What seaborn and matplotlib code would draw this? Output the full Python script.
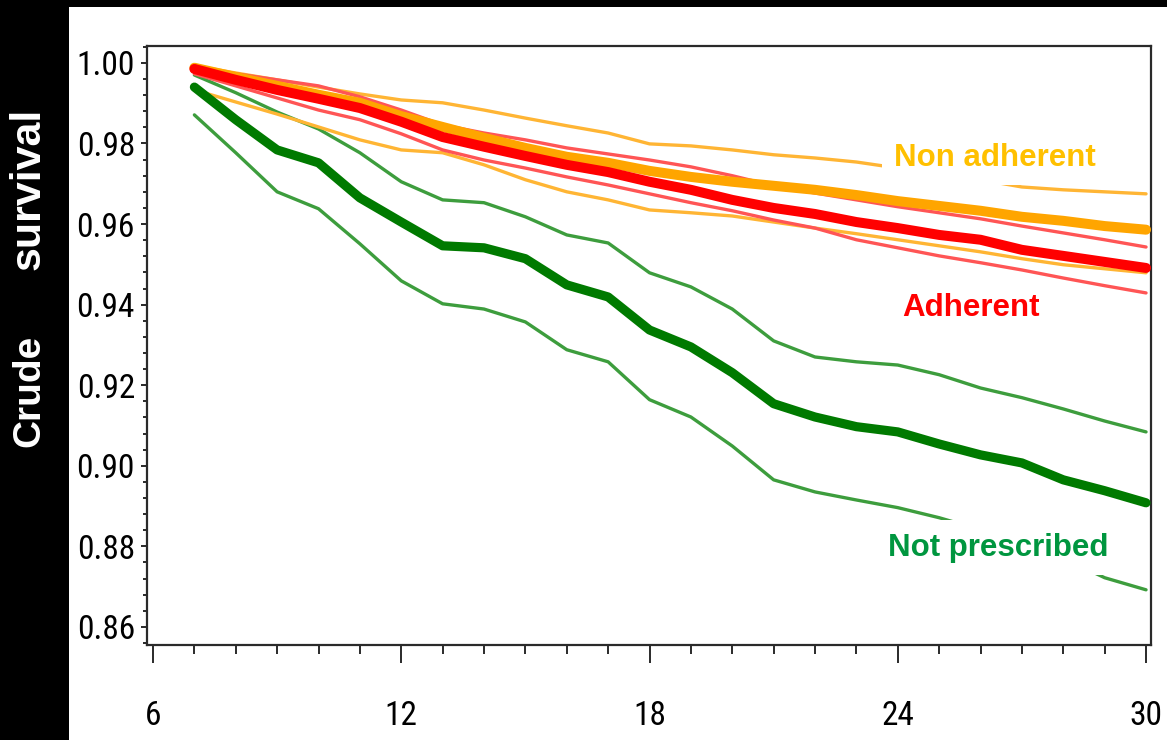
import numpy as np
import matplotlib
matplotlib.use("Agg")
import matplotlib.pyplot as plt
import seaborn as sns
from matplotlib.patches import Rectangle
from matplotlib.ticker import MultipleLocator, FixedLocator, StrMethodFormatter
from matplotlib import font_manager

# ---- data: crude survival by month of follow-up ----
months = list(range(7, 31))

not_prescribed = [0.9940, 0.9859, 0.9784, 0.9752, 0.9665, 0.9605, 0.9546, 0.9541,
                  0.9514, 0.9449, 0.9419, 0.9337, 0.9295, 0.9231, 0.9154, 0.9121,
                  0.9097, 0.9084, 0.9054, 0.9027, 0.9007, 0.8965, 0.8938, 0.8908]
not_prescribed_hi = [0.9970, 0.9926, 0.9878, 0.9836, 0.9777, 0.9705, 0.9660, 0.9653,
                     0.9618, 0.9573, 0.9553, 0.9479, 0.9444, 0.9389, 0.9310, 0.9270,
                     0.9258, 0.9250, 0.9226, 0.9193, 0.9169, 0.9141, 0.9111, 0.9084]
not_prescribed_lo = [0.9871, 0.9777, 0.9680, 0.9638, 0.9551, 0.9459, 0.9402, 0.9389,
                     0.9357, 0.9288, 0.9258, 0.9164, 0.9121, 0.9049, 0.8965, 0.8935,
                     0.8915, 0.8896, 0.8871, 0.8841, 0.8809, 0.8771, 0.8722, 0.8692]

adherent = [0.9985, 0.9958, 0.9933, 0.9911, 0.9888, 0.9854, 0.9816, 0.9792,
            0.9769, 0.9747, 0.9729, 0.9705, 0.9685, 0.9660, 0.9640, 0.9625,
            0.9605, 0.9590, 0.9573, 0.9561, 0.9536, 0.9521, 0.9506, 0.9491]
adherent_hi = [0.9990, 0.9973, 0.9958, 0.9943, 0.9916, 0.9883, 0.9846, 0.9826,
               0.9809, 0.9789, 0.9774, 0.9759, 0.9742, 0.9720, 0.9695, 0.9677,
               0.9660, 0.9643, 0.9628, 0.9613, 0.9595, 0.9578, 0.9561, 0.9543]
adherent_lo = [0.9973, 0.9943, 0.9913, 0.9883, 0.9859, 0.9824, 0.9784, 0.9759,
               0.9739, 0.9717, 0.9697, 0.9675, 0.9653, 0.9633, 0.9610, 0.9590,
               0.9561, 0.9541, 0.9521, 0.9504, 0.9486, 0.9466, 0.9447, 0.9429]

non_adherent = [0.9988, 0.9965, 0.9943, 0.9921, 0.9901, 0.9868, 0.9841, 0.9814,
                0.9789, 0.9767, 0.9752, 0.9732, 0.9717, 0.9705, 0.9695, 0.9685,
                0.9672, 0.9657, 0.9645, 0.9633, 0.9618, 0.9608, 0.9595, 0.9586]
non_adherent_hi = [0.9993, 0.9975, 0.9958, 0.9940, 0.9923, 0.9908, 0.9901, 0.9883,
                   0.9863, 0.9844, 0.9826, 0.9799, 0.9794, 0.9784, 0.9772, 0.9764,
                   0.9754, 0.9739, 0.9727, 0.9710, 0.9692, 0.9685, 0.9680, 0.9675]
non_adherent_lo = [0.9933, 0.9903, 0.9873, 0.9841, 0.9809, 0.9784, 0.9777, 0.9747,
                   0.9710, 0.9680, 0.9660, 0.9635, 0.9628, 0.9620, 0.9605, 0.9590,
                   0.9576, 0.9561, 0.9546, 0.9531, 0.9514, 0.9499, 0.9489, 0.9479]

group_labels = ["Non adherent", "Adherent", "Not prescribed"]
x_ticks = [6, 12, 18, 24, 30]
y_ticks = [0.86, 0.88, 0.90, 0.92, 0.94, 0.96, 0.98, 1.00]
y_label_words = ["Crude", "survival"]

# ---- styling ----
sns.set_style("white")
plt.rcParams["font.family"] = ["Liberation Sans", "DejaVu Sans"]

# prefer a narrow face for the tick numbers when one is available
installed = {f.name for f in font_manager.fontManager.ttflist}
tick_font, tick_size = "Liberation Sans", 21
for cand in ["Liberation Sans Narrow", "Arial Narrow", "Roboto Condensed",
             "Open Sans Condensed", "Noto Sans Condensed"]:
    if cand in installed:
        tick_font, tick_size = cand, 24
        break

W, H = 1167, 740
PT = 0.72  # points per pixel at 100 dpi
fig = plt.figure(figsize=(W / 100, H / 100), dpi=100, facecolor="white")

# dark slide border on the left and top
fig.patches.append(Rectangle((0, 0), 69 / W, 1, transform=fig.transFigure,
                             facecolor="black", edgecolor="none", zorder=0))
fig.patches.append(Rectangle((0, 1 - 7 / H), 1, 7 / H, transform=fig.transFigure,
                             facecolor="black", edgecolor="none", zorder=0))
gax = fig.add_axes([0, 0, 69 / W, 80 / H])
top_c = np.array([0x0a, 0x0d, 0x12]) / 255
bot_c = np.array([0x17, 0x1c, 0x27]) / 255
t = np.linspace(0, 1, 80)[:, None, None]
grad = top_c[None, None, :] * (1 - t) + bot_c[None, None, :] * t
gax.imshow(np.repeat(grad, 4, axis=1), aspect="auto")
gax.axis("off")

ax = fig.add_axes([147 / W, 95 / H, 1004 / W, 599 / H])
ax.set_facecolor("white")

c_orange, c_orange_ci = "#FFA500", "#FFB534"
c_red, c_red_ci = "#FF0000", "#FF5555"
c_green, c_green_ci = "#007A00", "#3D9D3D"

ci_lw = 2.4
for vals, col in [(not_prescribed_hi, c_green_ci), (not_prescribed_lo, c_green_ci)]:
    sns.lineplot(x=months, y=vals, ax=ax, color=col, linewidth=ci_lw, zorder=2)
sns.lineplot(x=months, y=not_prescribed, ax=ax, color=c_green, linewidth=6.6,
             zorder=3, solid_capstyle="round")
for vals, col in [(non_adherent_hi, c_orange_ci), (non_adherent_lo, c_orange_ci),
                  (adherent_hi, c_red_ci), (adherent_lo, c_red_ci)]:
    sns.lineplot(x=months, y=vals, ax=ax, color=col, linewidth=ci_lw, zorder=2)
sns.lineplot(x=months, y=non_adherent, ax=ax, color=c_orange, linewidth=7.2,
             zorder=3, solid_capstyle="round")
sns.lineplot(x=months, y=adherent, ax=ax, color=c_red, linewidth=7.2,
             zorder=4, solid_capstyle="round")

# axis scales
ax.set_xlim(5.855, 30.12)
ax.set_ylim(0.8555, 1.0042)
ax.xaxis.set_major_locator(FixedLocator(x_ticks))
ax.xaxis.set_minor_locator(MultipleLocator(1))
ax.yaxis.set_major_locator(FixedLocator(y_ticks))
ax.yaxis.set_minor_locator(MultipleLocator(0.004))
ax.yaxis.set_major_formatter(StrMethodFormatter("{x:.2f}"))
ax.set_xlabel("")
ax.set_ylabel("")

for sp in ax.spines.values():
    sp.set_visible(True)
    sp.set_color("#2a2a2a")
    sp.set_linewidth(1.6)

tick_c = "#2a2a2a"
ax.tick_params(axis="x", which="major", direction="out", length=18 * PT, width=1.4,
               color=tick_c, pad=37 * PT, labelsize=tick_size, labelcolor="black",
               bottom=True)
ax.tick_params(axis="x", which="minor", direction="out", length=9 * PT, width=1.4,
               color=tick_c, bottom=True)
ax.tick_params(axis="y", which="major", direction="out", length=6 * PT, width=1.4,
               color=tick_c, pad=6 * PT, labelsize=tick_size, labelcolor="black",
               left=True)
ax.tick_params(axis="y", which="minor", direction="out", length=4 * PT, width=1.4,
               color=tick_c, left=True)
for lab in ax.get_xticklabels() + ax.get_yticklabels():
    lab.set_fontfamily(tick_font)

# group labels on white boxes
box = dict(facecolor="white", edgecolor="none", boxstyle="square,pad=0.4")
ax.text(26.35, 0.97642, group_labels[0], color="#FFC000", fontsize=22.5,
        fontweight="bold", ha="center", va="center", bbox=box, zorder=6)
ax.text(25.78, 0.93919, group_labels[1], color="#FF0000", fontsize=22.5,
        fontweight="bold", ha="center", va="center", bbox=box, zorder=6)
ax.text(26.43, 0.87962, group_labels[2], color="#00963F", fontsize=22.5,
        fontweight="bold", ha="center", va="center", bbox=box, zorder=6)

# y-axis title in the dark side band
fig.text(29 / W, 1 - 391 / H, y_label_words[0], rotation=90, color="white",
         fontsize=28, fontweight="bold", ha="center", va="center")
fig.text(29 / W, 1 - 189 / H, y_label_words[1], rotation=90, color="white",
         fontsize=31, fontweight="bold", ha="center", va="center")

fig.savefig("out.png", dpi=100, facecolor="white")
